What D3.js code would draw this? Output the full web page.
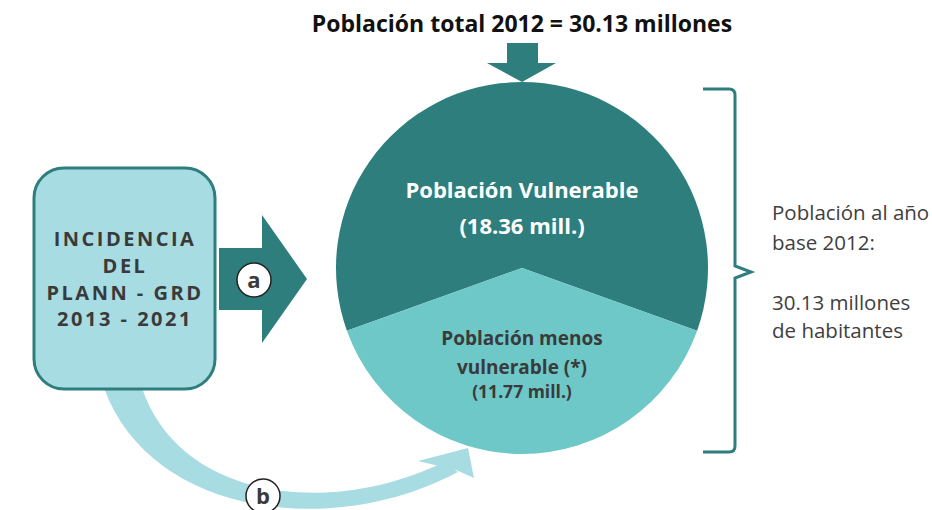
<!DOCTYPE html>
<html>
<head>
<meta charset="utf-8">
<script src="https://cdn.jsdelivr.net/npm/d3@7"></script>
<style>
  body { margin: 0; background: #fff; }
  text { font-family: "Open Sans", Lato, sans-serif; }
</style>
</head>
<body>
<div id="diagrama"></div>
<script>
// Datos
const titulo = "Población total 2012 = 30.13 millones"
const poblacionTotal = 30.13
const segmentos = ["Población Vulnerable", "Población menos vulnerable (*)"]
const valores = [18.36, 11.77]
const etiquetaVulnerable = ["Población Vulnerable", "(18.36 mill.)"]
const etiquetaMenos = ["Población menos", "vulnerable (*)", "(11.77 mill.)"]
const etiquetaCaja = ["INCIDENCIA", "DEL", "PLANN - GRD", "2013 - 2021"]
const etiquetaLado = ["Población al año", "base 2012:", "", "30.13 millones", "de habitantes"]

const oscuro = "#2e7e7e"
const claro = "#6ec8c8"
const celeste = "#a8dce3"
const gris = "#3a3a3a"

const ancho = 932, alto = 510
const svg = d3.select("#diagrama").append("svg")
              .attr("width", ancho).attr("height", alto)

// Titulo
svg.append("text")
   .attr("x", 522).attr("y", 32)
   .attr("text-anchor", "middle")
   .attr("font-size", 23).attr("font-weight", 700)
   .attr("fill", "#111")
   .text(titulo)

// Flecha hacia abajo
svg.append("path")
   .attr("d", "M507,43 L538,43 L538,63 L556,63 L522,82 L487,63 L507,63 Z")
   .attr("fill", oscuro)

// Circulo (pie)
const cx = 522, cy = 268, r = 186
const thetaMenos = 2 * Math.PI * valores[1] / poblacionTotal
const pie = d3.pie().sort(null)
              .startAngle(Math.PI + thetaMenos / 2)
              .endAngle(3 * Math.PI + thetaMenos / 2)
const arc = d3.arc().innerRadius(0).outerRadius(r)

svg.append("g")
   .attr("transform", `translate(${cx},${cy})`)
   .selectAll("path")
   .data(pie(valores))
   .join("path")
   .attr("d", arc)
   .attr("fill", (d, i) => i === 0 ? oscuro : claro)

svg.append("g")
   .selectAll("text")
   .data(etiquetaVulnerable)
   .join("text")
   .attr("x", cx)
   .attr("y", (d, i) => 198 + i * 36)
   .attr("text-anchor", "middle")
   .attr("font-size", 22).attr("font-weight", 700)
   .attr("fill", "#fff")
   .text(d => d)

svg.append("g")
   .selectAll("text")
   .data(etiquetaMenos)
   .join("text")
   .attr("x", cx)
   .attr("y", (d, i) => [345, 374, 398][i])
   .attr("text-anchor", "middle")
   .attr("font-size", (d, i) => i < 2 ? 19 : 17.5).attr("font-weight", 700)
   .attr("fill", gris)
   .text(d => d)

// Flecha curva (b)
svg.append("path")
   .attr("d", "M104,388 C150,515 330,540 458,472 L444,462 C330,518 180,500 142,388 Z")
   .attr("fill", celeste)
svg.append("path")
   .attr("d", "M418,461 L468,448 L474,478 L456,470 Z")
   .attr("fill", celeste)

// Caja izquierda
svg.append("rect")
   .attr("x", 34).attr("y", 168)
   .attr("width", 181).attr("height", 221)
   .attr("rx", 30)
   .attr("fill", celeste)
   .attr("stroke", oscuro).attr("stroke-width", 3)

svg.append("g")
   .selectAll("text")
   .data(etiquetaCaja)
   .join("text")
   .attr("x", 125)
   .attr("y", (d, i) => 246 + i * 26.8)
   .attr("text-anchor", "middle")
   .attr("font-family", "Lato, sans-serif")
   .attr("font-size", 20).attr("font-weight", 700)
   .attr("letter-spacing", 2.5)
   .attr("fill", gris)
   .text(d => d)

// Flecha derecha (a)
svg.append("path")
   .attr("d", "M219,248 L262,248 L262,215 L307,279 L262,343 L262,310 L219,310 Z")
   .attr("fill", oscuro)

const marcas = [{t: "a", x: 254, y: 280}, {t: "b", x: 263, y: 496}]
const m = svg.append("g")
             .selectAll("g")
             .data(marcas)
             .join("g")
             .attr("transform", d => `translate(${d.x},${d.y})`)
m.append("circle").attr("r", 17)
 .attr("fill", "#fff").attr("stroke", "#222").attr("stroke-width", 1.5)
m.append("text")
 .attr("y", 8).attr("text-anchor", "middle")
 .attr("font-size", 22).attr("font-weight", 700)
 .attr("fill", gris)
 .text(d => d.t)

// Llave derecha
svg.append("path")
   .attr("d", "M703,89 L729,89 Q735,89 735,95 L735,266 L751,272 L735,278 L735,446 Q735,452 729,452 L703,452")
   .attr("fill", "none")
   .attr("stroke", oscuro).attr("stroke-width", 3)

svg.append("g")
   .selectAll("text")
   .data(etiquetaLado)
   .join("text")
   .attr("x", 772)
   .attr("y", (d, i) => [220, 250, 0, 310, 338][i])
   .attr("font-size", 20.5)
   .attr("fill", "#404040")
   .text(d => d)
</script>
</body>
</html>
